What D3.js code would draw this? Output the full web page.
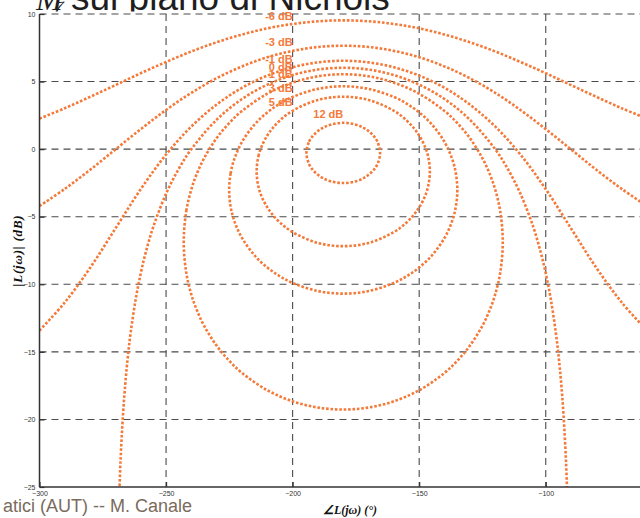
<!DOCTYPE html>
<html>
<head>
<meta charset="utf-8">
<script src="https://cdn.jsdelivr.net/npm/d3@7/dist/d3.min.js"></script>
<style>
  html, body { margin: 0; padding: 0; background: #fff; }
  svg { display: block; }
</style>
</head>
<body>
<svg id="chart" width="640" height="518"></svg>
<script>
// ---- axes ----
const phaseDomain = [-300, -60];
const dbDomain = [-25, 10];
const phaseTicks = [-300, -250, -200, -150, -100];
const dbTicks = [-25, -20, -15, -10, -5, 0, 5, 10];

// ---- contour levels and where their labels sit ----
const levelNames = ["-6 dB", "-3 dB", "-1 dB", "0 dB", "1 dB", "3 dB", "5 dB", "12 dB"];
const labelPhase = [-200, -200, -200, -200, -200, -200, -200, -180];

// ---- open contours (-6, -3, -1 dB) ----
const phaseOpen = [-300, -290, -280, -270, -260, -250, -240, -230, -220, -210, -200, -190, -180,
                   -170, -160, -150, -140, -130, -120, -110, -100, -90, -80, -70, -60];
const dbMinus6 = [2.26, 3.03, 3.87, 4.74, 5.62, 6.45, 7.23, 7.91, 8.48, 8.94, 9.26, 9.46, 9.53,
                  9.46, 9.26, 8.94, 8.48, 7.91, 7.23, 6.45, 5.62, 4.74, 3.87, 3.03, 2.26];
const dbMinus3 = [-4.21, -2.94, -1.53, -0.02, 1.48, 2.90, 4.17, 5.25, 6.12, 6.80, 7.27, 7.56, 7.65,
                  7.56, 7.27, 6.80, 6.12, 5.25, 4.17, 2.90, 1.48, -0.02, -1.53, -2.94, -4.21];
const dbMinus1 = [-13.42, -11.34, -8.78, -5.87, -2.96, -0.40, 1.68, 3.30, 4.54, 5.44, 6.06, 6.42, 6.54,
                  6.42, 6.06, 5.44, 4.54, 3.30, 1.68, -0.40, -2.96, -5.87, -8.78, -11.34, -13.42];

// ---- 0 dB contour (runs off the bottom on both sides) ----
const phaseZero = [-268.6, -268, -267, -266, -265, -264, -262, -260, -258, -255, -250, -245, -240,
                   -230, -220, -210, -200, -190, -180, -170, -160, -150, -140, -130,
                   -120, -115, -110, -105, -102, -100, -98, -96, -95, -94, -93, -92, -91.4];
const dbZero = [-26.22, -23.12, -19.60, -17.11, -15.17, -13.60, -11.11, -9.19, -7.62, -5.72, -3.30, -1.46, 0.00,
                2.18, 3.71, 4.77, 5.48, 5.89, 6.02, 5.89, 5.48, 4.77, 3.71, 2.18,
                0.00, -1.46, -3.30, -5.72, -7.62, -9.19, -11.11, -13.60, -15.17, -17.11, -19.60, -23.12, -26.22];

// ---- closed contours: upper and lower branches over the same phases ----
const phasePlus1 = [-243.02, -242, -240, -238, -235, -230, -225, -220, -210, -200, -190, -180,
                    -170, -160, -150, -140, -135, -130, -125, -122, -120, -118, -116.98];
const upperPlus1 = [-6.87, -4.57, -2.97, -1.89, -0.68, 0.82, 1.94, 2.82, 4.10, 4.92, 5.39, 5.54,
                    5.39, 4.92, 4.10, 2.82, 1.94, 0.82, -0.68, -1.89, -2.97, -4.57, -6.87];
const lowerPlus1 = [-6.87, -9.17, -10.77, -11.84, -13.06, -14.55, -15.67, -16.56, -17.84, -18.66, -19.12, -19.27,
                    -19.12, -18.66, -17.84, -16.56, -15.67, -14.55, -13.06, -11.84, -10.77, -9.17, -6.87];

const phasePlus3 = [-225.07, -224.5, -223, -220, -215, -210, -205, -200, -190, -180,
                    -170, -160, -155, -150, -145, -140, -137, -135.5, -134.93];
const upperPlus3 = [-3.02, -1.80, -0.71, 0.53, 1.83, 2.72, 3.37, 3.86, 4.46, 4.65,
                    4.46, 3.86, 3.37, 2.72, 1.83, 0.53, -0.71, -1.80, -3.02];
const lowerPlus3 = [-3.02, -4.24, -5.33, -6.57, -7.87, -8.76, -9.41, -9.90, -10.50, -10.69,
                    -10.50, -9.90, -9.41, -8.76, -7.87, -6.57, -5.33, -4.24, -3.02];

const phasePlus5 = [-214.22, -213.5, -212, -210, -208, -205, -200, -190, -180,
                    -170, -160, -155, -152, -150, -148, -146.5, -145.78];
const upperPlus5 = [-1.65, -0.52, 0.31, 1.01, 1.53, 2.13, 2.84, 3.64, 3.88,
                    3.64, 2.84, 2.13, 1.53, 1.01, 0.31, -0.52, -1.65];
const lowerPlus5 = [-1.65, -2.78, -3.61, -4.31, -4.83, -5.43, -6.14, -6.94, -7.18,
                    -6.94, -6.14, -5.43, -4.83, -4.31, -3.61, -2.78, -1.65];

const phasePlus12 = [-194.55, -193.5, -192, -190, -188, -185, -180, -175, -172, -170, -168, -166.5, -165.45];
const upperPlus12 = [-0.28, 0.55, 0.98, 1.34, 1.58, 1.81, 1.95, 1.81, 1.58, 1.34, 0.98, 0.55, -0.28];
const lowerPlus12 = [-0.28, -1.11, -1.54, -1.90, -2.15, -2.38, -2.51, -2.38, -2.15, -1.90, -1.54, -1.11, -0.28];

// ---- tables for drawing ----
const openCurves = [
  { phases: phaseOpen, upper: dbMinus6 },
  { phases: phaseOpen, upper: dbMinus3 },
  { phases: phaseOpen, upper: dbMinus1 },
  { phases: phaseZero, upper: dbZero }
];
const closedCurves = [
  { phases: phasePlus1, upper: upperPlus1, lower: lowerPlus1 },
  { phases: phasePlus3, upper: upperPlus3, lower: lowerPlus3 },
  { phases: phasePlus5, upper: upperPlus5, lower: lowerPlus5 },
  { phases: phasePlus12, upper: upperPlus12, lower: lowerPlus12 }
];
const allCurves = openCurves.concat(closedCurves);

const ORANGE = "#f47a3a";
const svg = d3.select("#chart");
const W = 640, H = 518;
const plot = { left: 39.5, right: 647, top: 14, bottom: 487 };

const x = d3.scaleLinear().domain(phaseDomain).range([plot.left, plot.right]);
const y = d3.scaleLinear().domain(dbDomain).range([plot.bottom, plot.top]);

svg.append("rect").attr("width", W).attr("height", H).attr("fill", "#fff");

// slide title (its lower edge is covered by the figure)
const serif = "'Liberation Serif', 'Times New Roman', serif";
const title = svg.append("text")
  .attr("y", 10)
  .attr("fill", "#1e1e1e")
  .attr("font-family", serif)
  .attr("font-style", "italic");
title.append("tspan")
  .attr("x", 36)
  .attr("font-size", 32)
  .text("M");
title.append("tspan")
  .attr("font-size", 21)
  .attr("dy", 6)
  .attr("dx", -8)
  .text("ζ");
svg.append("text")
  .attr("x", 71)
  .attr("y", 10)
  .attr("fill", "#1e1e1e")
  .attr("font-family", "'Liberation Sans', Arial, sans-serif")
  .attr("font-size", 37)
  .text("sul piano di Nichols");

// figure background
svg.append("rect")
  .attr("x", 0).attr("y", 11.5)
  .attr("width", W).attr("height", H - 11.5)
  .attr("fill", "#fff");

// grid
const grid = svg.append("g")
  .attr("stroke", "#4a4a4a")
  .attr("stroke-width", 1.1)
  .attr("stroke-dasharray", "7,5");
grid.selectAll("line.h")
  .data(dbTicks.filter(d => d > dbDomain[0]))
  .join("line")
  .attr("class", "h")
  .attr("x1", plot.left).attr("x2", plot.right)
  .attr("y1", d => y(d)).attr("y2", d => y(d));
grid.selectAll("line.v")
  .data(phaseTicks.filter(d => d > phaseDomain[0]))
  .join("line")
  .attr("class", "v")
  .attr("y1", plot.top).attr("y2", plot.bottom)
  .attr("x1", d => x(d)).attr("x2", d => x(d));

// contours
svg.append("clipPath").attr("id", "plotClip")
  .append("rect")
  .attr("x", plot.left).attr("y", plot.top)
  .attr("width", plot.right - plot.left).attr("height", plot.bottom - plot.top);

const openLine = d3.line()
  .x(d => x(d[0])).y(d => y(d[1]))
  .curve(d3.curveCatmullRom.alpha(0.5));
const closedLine = d3.line()
  .x(d => x(d[0])).y(d => y(d[1]))
  .curve(d3.curveCatmullRomClosed.alpha(0.5));

const curves = svg.append("g")
  .attr("clip-path", "url(#plotClip)")
  .attr("fill", "none")
  .attr("stroke", ORANGE)
  .attr("stroke-width", 2.6)
  .attr("stroke-dasharray", "2.6,1.8");

openCurves.forEach(c => {
  const pts = c.phases.map((p, i) => [p, c.upper[i]]);
  curves.append("path").attr("d", openLine(pts));
});
closedCurves.forEach(c => {
  const top = c.phases.map((p, i) => [p, c.upper[i]]);
  const bottom = c.phases.map((p, i) => [p, c.lower[i]]).reverse().slice(1, -1);
  curves.append("path").attr("d", closedLine(top.concat(bottom)));
});

// axes
const axisFont = "'Liberation Sans', Arial, sans-serif";
const yAxis = svg.append("g")
  .attr("transform", `translate(${plot.left},0)`)
  .call(d3.axisLeft(y).tickValues(dbTicks).tickSizeInner(-5).tickSizeOuter(0).tickPadding(4));
const xAxis = svg.append("g")
  .attr("transform", `translate(0,${plot.bottom})`)
  .call(d3.axisBottom(x).tickValues(phaseTicks).tickSizeInner(-5).tickSizeOuter(0).tickPadding(4));
[yAxis, xAxis].forEach(a => {
  a.select(".domain").attr("stroke", "#333").attr("stroke-width", 1.5);
  a.selectAll(".tick line").attr("stroke", "#333").attr("stroke-width", 1.2);
  a.selectAll(".tick text")
    .attr("fill", "#333")
    .attr("font-family", axisFont)
    .attr("font-size", 7);
});
yAxis.select(".domain").attr("d", `M0,${plot.top}V${plot.bottom}`);
xAxis.select(".domain").attr("d", `M${plot.left},0H${plot.right}`);

// contour labels
const labels = svg.append("g")
  .attr("fill", ORANGE)
  .attr("font-family", axisFont)
  .attr("font-weight", "bold")
  .attr("font-size", 11)
  .attr("text-anchor", "end");
levelNames.forEach((name, i) => {
  const c = allCurves[i];
  const k = c.phases.indexOf(labelPhase[i]);
  labels.append("text")
    .attr("x", x(labelPhase[i]))
    .attr("y", y(c.upper[k]) - 4.5)
    .text(name);
});

// axis titles
svg.append("text")
  .attr("transform", `translate(21.5,${(plot.top + plot.bottom) / 2}) rotate(-90)`)
  .attr("text-anchor", "middle")
  .attr("font-family", serif)
  .attr("font-weight", "bold")
  .attr("font-style", "italic")
  .attr("font-size", 13)
  .attr("letter-spacing", 0.8)
  .attr("fill", "#111")
  .text("|L(jω)| (dB)");
svg.append("text")
  .attr("x", 350)
  .attr("y", 514)
  .attr("text-anchor", "middle")
  .attr("font-family", serif)
  .attr("font-weight", "bold")
  .attr("font-style", "italic")
  .attr("font-size", 12)
  .attr("fill", "#111")
  .text("∠L(jω) (°)");

// slide footer
svg.append("text")
  .attr("x", 192)
  .attr("y", 512)
  .attr("text-anchor", "end")
  .attr("font-family", axisFont)
  .attr("font-size", 18)
  .attr("fill", "#7a6b5c")
  .text("atici (AUT) -- M. Canale");
</script>
</body>
</html>
